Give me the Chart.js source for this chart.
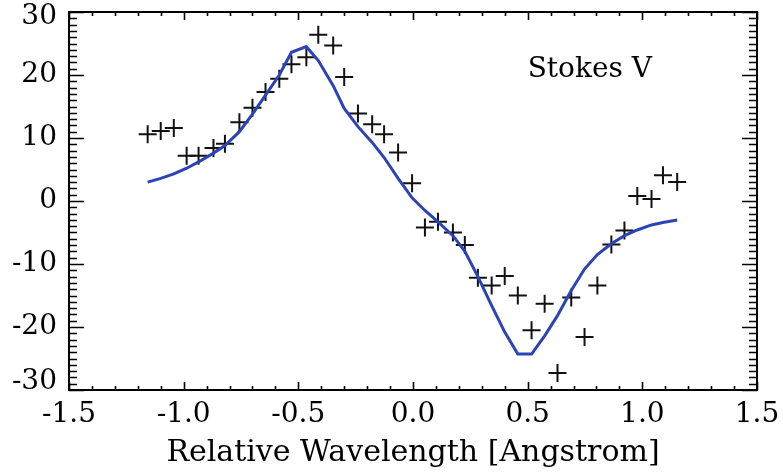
<!DOCTYPE html>
<html>
<head>
<meta charset="utf-8">
<script src="https://cdn.jsdelivr.net/npm/chart.js@4/dist/chart.umd.min.js"></script>
<style>
html,body{margin:0;padding:0;background:#fff;}
#wrap{width:783px;height:476px;position:relative;}
</style>
</head>
<body>
<div id="wrap"><canvas id="c"></canvas></div>
<script>
// Observed Stokes V (crosses)
const obsX = [-1.157,-1.10,-1.043,-0.987,-0.935,-0.87,-0.82,-0.757,-0.70,-0.643,-0.583,-0.53,-0.465,-0.413,-0.348,-0.30,-0.24,-0.178,-0.126,-0.065,-0.004,0.052,0.109,0.174,0.226,0.283,0.343,0.40,0.457,0.517,0.574,0.63,0.69,0.748,0.804,0.865,0.922,0.978,1.04,1.09,1.152];
const obsY = [10.6,11.1,11.6,7.2,7.2,8.4,9.1,12.5,14.8,17.3,19.4,21.7,22.8,26.4,24.7,19.7,13.9,12.2,10.6,7.7,2.8,-4.2,-3.3,-5.0,-7.0,-12.2,-13.4,-11.9,-15.0,-20.5,-16.3,-27.3,-15.3,-21.6,-13.4,-6.9,-4.7,0.8,0.3,4.1,3.0];
// Model fit (blue line)
const fitX = obsX;
const fitY = [3.0,3.6,4.3,5.2,6.2,7.6,8.8,11.0,13.8,16.8,20.0,23.6,24.5,22.3,18.3,14.7,11.8,9.3,6.9,3.6,0.5,-1.5,-3.3,-5.5,-8.0,-12.0,-16.6,-20.8,-24.3,-24.3,-21.4,-18.2,-14.2,-10.8,-8.5,-6.8,-5.5,-4.6,-3.8,-3.4,-3.0];
const xTicks = [-1.5,-1.0,-0.5,0.0,0.5,1.0,1.5];
const yTicks = [-30,-20,-10,0,10,20,30];
const xTitle = 'Relative Wavelength [Angstrom]';
const label = 'Stokes V';

const SERIF = '"DejaVu Serif", "Liberation Serif", serif';

const framePlugin = {
  id: 'frame',
  afterDraw(chart) {
    const {ctx, chartArea: a, scales: {x, y}} = chart;
    ctx.save();
    ctx.strokeStyle = '#000';
    ctx.lineWidth = 2;
    ctx.strokeRect(a.left, a.top, a.right - a.left, a.bottom - a.top);
    ctx.lineWidth = 1.6;
    ctx.beginPath();
    // x ticks every 0.1
    for (let i = -15; i <= 15; i++) {
      const v = i / 10;
      const px = Math.round(x.getPixelForValue(v)) + 0.5;
      const major = (i % 5 === 0);
      const len = major ? 8 : 4;
      ctx.moveTo(px, a.bottom); ctx.lineTo(px, a.bottom - len);
      ctx.moveTo(px, a.top); ctx.lineTo(px, a.top + len);
    }
    // y ticks every 1
    for (let v = -30; v <= 30; v++) {
      const py = Math.round(y.getPixelForValue(v)) + 0.5;
      const major = (v % 10 === 0);
      const len = major ? 15 : 8;
      ctx.moveTo(a.left, py); ctx.lineTo(a.left + len, py);
      ctx.moveTo(a.right, py); ctx.lineTo(a.right - len, py);
    }
    ctx.stroke();
    // y tick labels (end labels kept inside the frame, as in the original)
    ctx.fillStyle = '#000';
    ctx.font = '28px ' + SERIF;
    ctx.textAlign = 'right';
    ctx.textBaseline = 'middle';
    yTicks.forEach(v => {
      let py = y.getPixelForValue(v);
      py = Math.min(Math.max(py, a.top + 5), a.bottom - 8);
      ctx.fillText(String(v), a.left - 12, py);
    });
    // label
    ctx.font = '28px ' + SERIF;
    ctx.textAlign = 'left';
    ctx.fillText(label, x.getPixelForValue(0.5), y.getPixelForValue(20.8));
    ctx.restore();
  }
};

new Chart(document.getElementById('c'), {
  type: 'scatter',
  data: {
    datasets: [
      {
        label: 'fit',
        data: fitX.map((v, i) => ({x: v, y: fitY[i]})),
        showLine: true,
        borderColor: '#2b43b5',
        borderWidth: 3,
        pointRadius: 0,
        fill: false,
        tension: 0
      },
      {
        label: 'obs',
        data: obsX.map((v, i) => ({x: v, y: obsY[i]})),
        showLine: false,
        pointStyle: 'cross',
        pointRadius: 9,
        borderColor: '#111',
        borderWidth: 2
      }
    ]
  },
  options: {
    responsive: true,
    maintainAspectRatio: false,
    animation: false,
    layout: {padding: {top: 12, right: 26, left: 0, bottom: 0}},
    plugins: {legend: {display: false}, tooltip: {enabled: false}},
    scales: {
      x: {
        type: 'linear', min: -1.5, max: 1.5,
        afterBuildTicks(s) { s.ticks = xTicks.map(v => ({value: v})); },
        afterFit(s) { s.height = 86; s.paddingLeft = 0; s.paddingRight = 0; },
        grid: {display: false, drawTicks: false},
        border: {display: false},
        ticks: {
          padding: 8,
          color: '#000',
          font: {family: SERIF, size: 28},
          maxRotation: 0,
          callback: v => Number(v).toFixed(1)
        },
        title: {display: true, text: xTitle, color: '#000', font: {family: SERIF, size: 30}, padding: {top: 0, bottom: 5}}
      },
      y: {
        type: 'linear', min: -30, max: 30,
        afterBuildTicks(s) { s.ticks = yTicks.map(v => ({value: v})); },
        afterFit(s) { s.width = 69; s.paddingTop = 0; s.paddingBottom = 0; },
        grid: {display: false, drawTicks: false},
        border: {display: false},
        ticks: {display: false}
      }
    }
  },
  plugins: [framePlugin]
});
</script>
</body>
</html>
